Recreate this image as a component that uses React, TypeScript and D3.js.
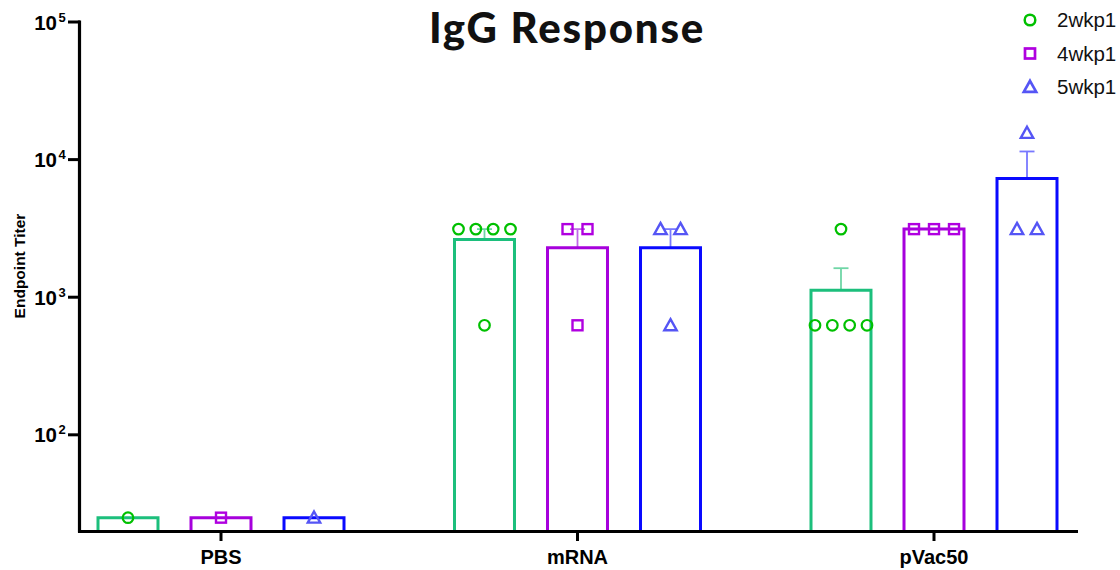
import React from "react";
import * as d3 from "d3";

const groups = ["PBS", "mRNA", "pVac50"];
const series = ["2wkp1", "4wkp1", "5wkp1"];

// Individual endpoint titers per group, per time point
const pbsValues = [[25], [25], [25]];
const mrnaValues = [
  [3125, 3125, 3125, 3125, 625],
  [3125, 3125, 625],
  [3125, 3125, 625],
];
const pvacValues = [
  [3125, 625, 625, 625, 625],
  [3125, 3125, 3125],
  [15625, 3125, 3125],
];
const allValues = [pbsValues, mrnaValues, pvacValues];

const yTicks = [100, 1000, 10000, 100000];
const yDomain = [20, 100000];

const barColors = ["#1cbf7c", "#a600dc", "#0a0aff"];
const pointColors = ["#00c000", "#b000e0", "#5555f5"];
const errColors = ["#6fd6a6", "#c066e8", "#7878ff"];

const W = 1120;
const H = 570;

function mean(v: number[]) {
  return d3.mean(v) as number;
}
function sem(v: number[]) {
  if (v.length < 2) return 0;
  return (d3.deviation(v) as number) / Math.sqrt(v.length);
}

function Marker({ kind, x, y, color, w = 2.2 }: { kind: number; x: number; y: number; color: string; w?: number }) {
  if (kind === 0) {
    return <circle cx={x} cy={y} r={5.3} fill="none" stroke={color} strokeWidth={w} />;
  }
  if (kind === 1) {
    return <rect x={x - 5} y={y - 5} width={10} height={10} fill="none" stroke={color} strokeWidth={w + 0.2} />;
  }
  const s = 6.2;
  const path = `M${x},${y - s}L${x + s},${y + s * 0.8}L${x - s},${y + s * 0.8}Z`;
  return <path d={path} fill="none" stroke={color} strokeWidth={w + 0.2} strokeLinejoin="miter" />;
}

export default function App() {
  const y = d3.scaleLog().domain(yDomain).range([531, 22]);
  const xg = d3.scalePoint<string>().domain(groups).range([221, 934]);
  const xs = d3.scaleBand<string>().domain(series).range([-123, 123]).paddingInner(0.355);
  const bw = xs.bandwidth();
  const baseY = y(yDomain[0]);

  return (
    <svg width={W} height={H} style={{ position: "absolute", left: 0, top: 0, background: "#fff" }}
      fontFamily="'Liberation Sans', Arial, sans-serif">
      {/* title */}
      <text x={567} y={43} textAnchor="middle" fontFamily="Lato, sans-serif" fontWeight={900}
        fontSize={42} letterSpacing={1.8} fill="#111">IgG Response</text>

      {/* bars, error bars, points */}
      {groups.map((g, gi) =>
        series.map((s, si) => {
          const vals = allValues[gi][si];
          const m = mean(vals);
          const e = sem(vals);
          const cx = (xg(g) as number) + (xs(s) as number) + bw / 2;
          const top = y(m);
          // identical values are spread side by side
          const byVal = d3.groups(vals, (v) => v);
          return (
            <g key={g + s}>
              {e > 0 && (
                <g stroke={errColors[si]} strokeWidth={1.8}>
                  <line x1={cx} x2={cx} y1={top} y2={y(m + e)} />
                  <line x1={cx - 7.5} x2={cx + 7.5} y1={y(m + e)} y2={y(m + e)} />
                </g>
              )}
              <path
                d={`M${cx - bw / 2},${baseY}V${top}H${cx + bw / 2}V${baseY}`}
                fill="none" stroke={barColors[si]} strokeWidth={3}
              />
              {byVal.map(([v, arr]) => {
                const k = arr.length;
                const sp = k > 1 ? Math.min(20, 52 / (k - 1)) : 0;
                return arr.map((_, i) => (
                  <Marker key={v + "-" + i} kind={si} x={cx + (i - (k - 1) / 2) * sp} y={y(v)} color={pointColors[si]} />
                ));
              })}
            </g>
          );
        })
      )}

      {/* y axis */}
      <line x1={79.5} x2={79.5} y1={20.5} y2={532.5} stroke="#000" strokeWidth={3.2} />
      {yTicks.map((t) => {
        const ty = y(t);
        const exp = String(Math.round(Math.log10(t)));
        return (
          <g key={t}>
            <line x1={68} x2={80} y1={ty} y2={ty} stroke="#000" strokeWidth={3} />
            <text x={57} y={ty + 7.5} textAnchor="end" fontWeight={700} fontSize={20.5} fill="#000">10</text>
            <text x={58.5} y={ty - 0.5} textAnchor="start" fontWeight={700} fontSize={13} fill="#000">{exp}</text>
          </g>
        );
      })}
      <text transform="translate(25,266) rotate(-90)" textAnchor="middle" fontWeight={700} fontSize={15.5} fill="#000">
        Endpoint Titer
      </text>

      {/* x axis */}
      <line x1={78} x2={1078} y1={531.5} y2={531.5} stroke="#000" strokeWidth={3.2} />
      {groups.map((g) => (
        <g key={g}>
          <line x1={xg(g)} x2={xg(g)} y1={531} y2={541} stroke="#000" strokeWidth={3} />
          <text x={xg(g)} y={564} textAnchor="middle" fontWeight={700} fontSize={20} fill="#000">{g}</text>
        </g>
      ))}

      {/* legend */}
      {series.map((s, si) => (
        <g key={s}>
          <Marker kind={si} x={1030} y={20 + si * 33.5} color={pointColors[si]} w={2.5} />
          <text x={1057} y={27 + si * 33.5} fontSize={20.5} fill="#111">{s}</text>
        </g>
      ))}
    </svg>
  );
}
